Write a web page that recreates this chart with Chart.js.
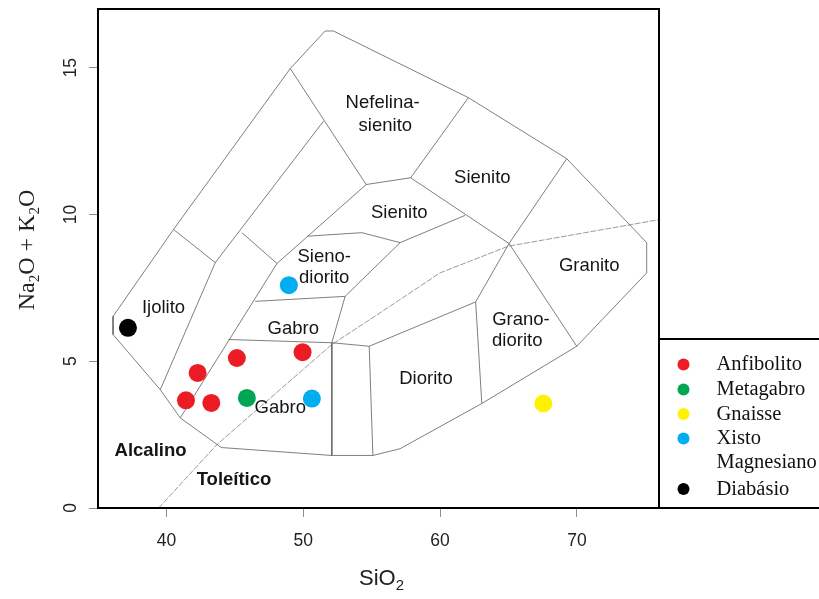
<!DOCTYPE html>
<html><head><meta charset="utf-8">
<script src="https://cdn.jsdelivr.net/npm/chart.js@4/dist/chart.umd.min.js"></script>
<style>html,body{margin:0;padding:0;background:#fff;}canvas{display:block;}</style>
</head><body>
<canvas id="c" width="819" height="599"></canvas>
<script>
// ---- axis ticks ----
const xTicks = [40, 50, 60, 70];
const yTicks = [0, 5, 10, 15];

// ---- samples (SiO2 , Na2O+K2O) ----
const seriesNames = ['Anfibolito', 'Metagabro', 'Gnaisse', 'Xisto\nMagnesiano', 'Diabásio'];
const seriesColors = ['#ec1c24', '#00a651', '#fff200', '#00aeef', '#000000'];
const anfibolitoSiO2 = [41.43, 42.28, 43.28, 45.15, 49.95];
const anfibolitoAlk  = [3.67, 4.60, 3.58, 5.11, 5.31];
const metagabroSiO2  = [45.88];
const metagabroAlk   = [3.75];
const gnaisseSiO2    = [67.55];
const gnaisseAlk     = [3.56];
const xistoSiO2      = [48.95, 50.63];
const xistoAlk       = [7.59, 3.73];
const diabasioSiO2   = [37.19];
const diabasioAlk    = [6.14];

// ---- classification diagram boundaries (SiO2, Na2O+K2O) ----
const outerBoundary = [[36.1,6.53],[36.1,5.91],[39.55,4.03],[41.01,3.07],[44.01,2.06],[52.09,1.79],[55.09,1.79],[57.08,2.02],[63.05,3.56],[69.99,5.51],[75.1,8.01],[75.1,9.04],[69.26,11.9],[62.07,13.98],[52.21,16.25],[51.6,16.25],[49.05,14.97],[40.52,9.49],[36.1,6.53]];
const lineIjolito   = [[39.55,4.03],[43.57,8.36],[51.48,13.18]];
const lineCross1    = [[40.52,9.49],[43.57,8.36]];
const lineGabro     = [[41.01,3.07],[48.08,8.33],[54.6,11.02]];
const lineCross2    = [[45.52,9.38],[48.08,8.33]];
const lineNefelina  = [[49.05,14.97],[54.6,11.02],[57.85,11.25],[62.07,13.98]];
const lineSienito   = [[57.85,11.25],[65.04,9.01],[69.99,5.51]];
const lineSienitoR  = [[69.26,11.9],[65.04,9.01]];
const lineGranodio  = [[65.04,9.01],[62.6,7.02],[63.05,3.56]];
const lineDioritoT  = [[62.6,7.02],[54.82,5.51],[52.09,5.63]];
const lineDioritoL  = [[54.82,5.51],[55.09,1.79]];
const lineVertical  = [[52.09,5.63],[52.09,1.79]];
const lineSienoR    = [[52.09,5.63],[53.06,7.21],[57.08,9.04],[61.83,9.97]];
const lineSienoTop  = [[50.31,9.26],[54.28,9.38],[57.08,9.04]];
const lineSienoBot  = [[46.49,7.04],[53.06,7.21]];
const lineGabroTop  = [[44.54,5.74],[52.09,5.63]];
const lineAlkaline  = [[39.43,0],[43.69,2.16],[52.09,5.57],[55.62,6.65],[60.0,8.01],[64.99,8.92],[76.09,9.83]];

// ---- field labels ----
const fieldLabels = [
  ['Nefelina-', 55.8, 13.81], ['sienito', 56.0, 13.01],
  ['Sienito', 63.09, 11.25], ['Sienito', 57.02, 10.06],
  ['Sieno-', 51.53, 8.56], ['diorito', 51.53, 7.84],
  ['Gabro', 49.27, 6.10], ['Gabro', 48.32, 3.41],
  ['Ijolito', 39.79, 6.82], ['Diorito', 58.97, 4.40],
  ['Grano-', 65.91, 6.40], ['diorito', 65.64, 5.68],
  ['Granito', 70.90, 8.26]
];
const seriesLabels = [['Alcalino', 38.84, 1.93], ['Toleítico', 44.94, 0.965]];

const toPts = (xs, ys) => xs.map((v, i) => ({x: v, y: ys[i]}));
const toXY = arr => arr.map(p => ({x: p[0], y: p[1]}));

const pointSets = [
  [anfibolitoSiO2, anfibolitoAlk], [metagabroSiO2, metagabroAlk], [gnaisseSiO2, gnaisseAlk],
  [xistoSiO2, xistoAlk], [diabasioSiO2, diabasioAlk]
].map((s, i) => ({
  label: seriesNames[i], data: toPts(s[0], s[1]), showLine: false,
  pointRadius: 9, pointHoverRadius: 9, pointBackgroundColor: seriesColors[i],
  pointBorderWidth: 0, pointBorderColor: seriesColors[i], order: 0
}));

const boundaryLines = [outerBoundary, lineIjolito, lineCross1, lineGabro, lineCross2, lineNefelina,
  lineSienito, lineSienitoR, lineGranodio, lineDioritoT, lineDioritoL, lineVertical, lineSienoR,
  lineSienoTop, lineSienoBot, lineGabroTop].map(l => ({
  label: 'b', data: toXY(l), showLine: true, pointRadius: 0, borderColor: '#5e5e5e',
  borderWidth: 0.8, fill: false, tension: 0, order: 2
}));
boundaryLines.push({label: 'alk', data: toXY(lineAlkaline), showLine: true, pointRadius: 0,
  borderColor: '#909090', borderWidth: 0.9, borderDash: [6, 1.5], fill: false, tension: 0, order: 2});

const decor = {
  id: 'decor',
  afterDatasetsDraw(chart) {
    const ctx = chart.ctx, xs = chart.scales.x, ys = chart.scales.y;
    ctx.save();
    ctx.fillStyle = '#151515';
    ctx.textAlign = 'center'; ctx.textBaseline = 'middle';
    ctx.font = '18.5px "Liberation Sans", Arial, sans-serif';
    fieldLabels.forEach(l => ctx.fillText(l[0], xs.getPixelForValue(l[1]), ys.getPixelForValue(l[2])));
    ctx.font = 'bold 18.5px "Liberation Sans", Arial, sans-serif';
    seriesLabels.forEach(l => ctx.fillText(l[0], xs.getPixelForValue(l[1]), ys.getPixelForValue(l[2])));
    ctx.restore();
  },
  afterDraw(chart) {
    const ctx = chart.ctx, a = chart.chartArea, ys = chart.scales.y;
    ctx.save();
    // frame
    ctx.strokeStyle = '#000'; ctx.lineWidth = 2;
    ctx.strokeRect(a.left, a.top, a.right - a.left, a.bottom - a.top);
    // y tick labels (rotated)
    ctx.fillStyle = '#222';
    ctx.font = '17.5px "Liberation Sans", Arial, sans-serif';
    ctx.textAlign = 'center'; ctx.textBaseline = 'middle';
    yTicks.forEach(v => {
      ctx.save();
      ctx.translate(71, ys.getPixelForValue(v));
      ctx.rotate(-Math.PI / 2);
      ctx.fillText(String(v), 0, 0);
      ctx.restore();
    });
    // x axis title SiO2
    ctx.textAlign = 'left'; ctx.textBaseline = 'alphabetic';
    ctx.font = '22px "Liberation Sans", Arial, sans-serif';
    const t1 = 'SiO', w1 = ctx.measureText(t1).width;
    ctx.font = '15px "Liberation Sans", Arial, sans-serif';
    const w2 = ctx.measureText('2').width;
    const cx = (a.left + a.right) / 2 + 3, x0 = cx - (w1 + w2) / 2;
    ctx.font = '22px "Liberation Sans", Arial, sans-serif';
    ctx.fillText(t1, x0, 585);
    ctx.font = '15px "Liberation Sans", Arial, sans-serif';
    ctx.fillText('2', x0 + w1, 590);
    // y axis title Na2O + K2O
    ctx.save();
    ctx.translate(34, 250);
    ctx.rotate(-Math.PI / 2);
    const big = '24px "Liberation Serif", "Times New Roman", serif';
    const small = '15px "Liberation Serif", "Times New Roman", serif';
    const parts = [['Na', big, 0], ['2', small, 5], ['O + K', big, 0], ['2', small, 5], ['O', big, 0]];
    let tw = 0;
    parts.forEach(p => { ctx.font = p[1]; p.push(ctx.measureText(p[0]).width); tw += p[3]; });
    let px = -tw / 2;
    parts.forEach(p => { ctx.font = p[1]; ctx.fillText(p[0], px, p[2]); px += p[3]; });
    ctx.restore();
    // legend box
    const lt = 339;
    ctx.strokeStyle = '#000'; ctx.lineWidth = 2;
    ctx.strokeRect(a.right, lt, 200, a.bottom - lt);
    const rows = [365, 390, 414.5, 439, 489.5];
    ctx.font = '20.5px "Liberation Serif", "Times New Roman", serif';
    ctx.textBaseline = 'middle'; ctx.textAlign = 'left';
    seriesNames.forEach((n, i) => {
      ctx.beginPath();
      ctx.fillStyle = seriesColors[i];
      ctx.arc(683.5, rows[i] - 0.5, 6, 0, Math.PI * 2);
      ctx.fill();
      ctx.fillStyle = '#111';
      n.split('\n').forEach((ln, j) => ctx.fillText(ln, 716.5, rows[i] + j * 24));
    });
    ctx.restore();
  }
};

new Chart(document.getElementById('c'), {
  type: 'scatter',
  data: {datasets: [...pointSets, ...boundaryLines]},
  options: {
    responsive: false, animation: false, devicePixelRatio: 1,
    layout: {padding: {top: 9, right: 160, left: 0, bottom: 0}},
    plugins: {legend: {display: false}, tooltip: {enabled: false}},
    scales: {
      x: {
        type: 'linear', min: 35, max: 76,
        afterBuildTicks: s => { s.ticks = xTicks.map(v => ({value: v})); },
        afterFit: s => { s.height = 91; },
        grid: {drawOnChartArea: false, drawTicks: true, tickLength: 9, color: '#8c8c8c', lineWidth: 1},
        border: {display: false},
        ticks: {font: {family: '"Liberation Sans", Arial, sans-serif', size: 17.5}, color: '#222',
                padding: 14, maxRotation: 0, autoSkip: false}
      },
      y: {
        type: 'linear', min: 0, max: 17,
        afterBuildTicks: s => { s.ticks = yTicks.map(v => ({value: v})); },
        afterFit: s => { s.width = 98; },
        grid: {drawOnChartArea: false, drawTicks: true, tickLength: 9, color: '#8c8c8c', lineWidth: 1},
        border: {display: false},
        ticks: {display: false}
      }
    }
  },
  plugins: [decor]
});
</script>
</body></html>
